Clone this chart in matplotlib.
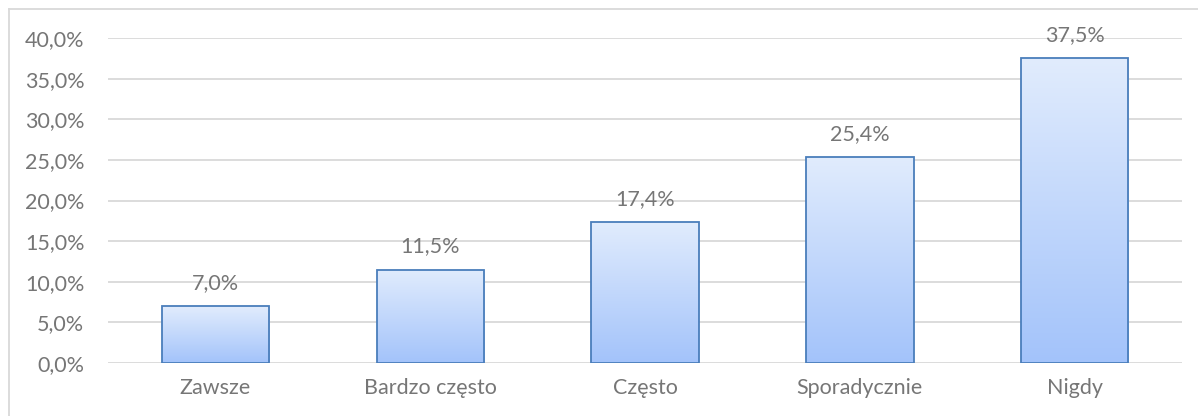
import numpy as np
import matplotlib.pyplot as plt
from matplotlib.colors import LinearSegmentedColormap
from matplotlib.ticker import FuncFormatter

# dane z wykresu
kategorie = ['Zawsze', 'Bardzo często', 'Często', 'Sporadycznie', 'Nigdy']
wartosci = [7.0, 11.5, 17.4, 25.4, 37.5]

plt.rcParams['font.family'] = ['Lato', 'DejaVu Sans']
kolor_tekstu = '#767676'

fig = plt.figure(figsize=(11.98, 4.16), dpi=100)
ax = fig.add_axes([108 / 1198, (416 - 363) / 416, (1182 - 108) / 1198, (363 - 38) / 416])

x = np.arange(len(kategorie))
bars = ax.bar(x, wartosci, width=0.5, color='none', edgecolor='#4A7EBB', linewidth=1.3, zorder=3)

# gradient w słupkach (jasny u góry, ciemniejszy na dole)
cmap = LinearSegmentedColormap.from_list('grad', ['#A3C3FA', '#E1ECFD'])
grad = np.linspace(0, 1, 256).reshape(-1, 1)
for b in bars:
    x0, y0 = b.get_x(), b.get_y()
    w, h = b.get_width(), b.get_height()
    im = ax.imshow(grad, extent=[x0, x0 + w, y0, y0 + h], origin='lower',
                   cmap=cmap, aspect='auto', zorder=2)
    im.set_clip_path(b)

# etykiety wartości
for xi, v in zip(x, wartosci):
    ax.text(xi, v + 1.6, f'{v:.1f}%'.replace('.', ','), ha='center', va='bottom',
            fontsize=15.5, color=kolor_tekstu)

ax.set_xlim(-0.5, len(kategorie) - 0.5)
ax.set_ylim(0, 40)
ax.set_yticks(np.arange(0, 41, 5))
ax.yaxis.set_major_formatter(FuncFormatter(lambda v, p: f'{v:.1f}%'.replace('.', ',')))
ax.set_xticks(x)
ax.set_xticklabels(kategorie)
ax.tick_params(axis='both', length=0, labelsize=15.5, labelcolor=kolor_tekstu)
ax.tick_params(axis='x', pad=11)
ax.tick_params(axis='y', pad=17)
ax.grid(axis='y', color='#D9D9D9', linewidth=1.3, zorder=0)
ax.set_axisbelow(True)
for s in ax.spines.values():
    s.set_visible(False)

# ramka wykresu (górna i lewa krawędź)
fig.add_artist(plt.Line2D([9 / 1198, 1], [1 - 9 / 416, 1 - 9 / 416], color='#D9D9D9', lw=1.3))
fig.add_artist(plt.Line2D([9 / 1198, 9 / 1198], [0, 1 - 9 / 416], color='#D9D9D9', lw=1.3))

fig.savefig('out.png', dpi=100)
